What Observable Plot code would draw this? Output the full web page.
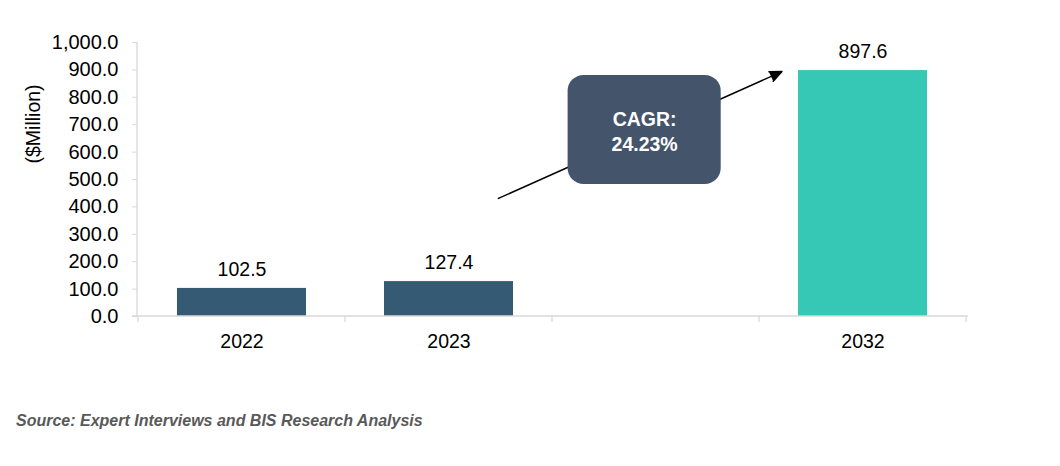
<!DOCTYPE html>
<html><head><meta charset="utf-8">
<script src="https://cdn.jsdelivr.net/npm/d3@7"></script>
<script src="https://cdn.jsdelivr.net/npm/@observablehq/plot@0.6"></script>
<style>
body{margin:0;background:#fff;font-family:"Liberation Sans",Arial,sans-serif;}
#caption{position:absolute;left:16px;top:412px;font:italic bold 16px "Liberation Sans",Arial,sans-serif;color:#595959;white-space:nowrap;}
</style></head><body>
<div id="chart"></div>
<div id="caption">Source: Expert Interviews and BIS Research Analysis</div>
<script>
// categories (the blank one is the gap between 2023 and 2032)
const categories = ["2022", "2023", " ", "2032"];
const barYears = ["2022", "2023", "2032"];
const barValues = [102.5, 127.4, 897.6];
const barColors = ["#345b73", "#345b73", "#36c7b5"];
const yTicks = [0, 100, 200, 300, 400, 500, 600, 700, 800, 900, 1000];
const yLabel = "($Million)";
// CAGR annotation
const cagrText = ["CAGR:\n24.23%"];
const cagrBox = [{x: " ", y1: 482, y2: 880}];
const cagrTextPos = [{x: " ", y: 680}];
const cagrArrow = [{x1: "2023", y1: 350.4, x2: "2032", y2: 1026}];

const bars = barYears.map((d, i) => ({year: d, value: barValues[i], color: barColors[i]}));

const axisLines = (index, scales, values, dims) => {
  const x = scales.x, y = scales.y;
  const bw = x.bandwidth ? x.bandwidth() : 0;
  const step = x.step ? x.step() : bw;
  const y0 = y(0);
  const g = d3.create("svg:g").attr("stroke", "#d9d9d9").attr("stroke-width", 1.3).attr("fill", "none");
  g.append("line").attr("x1", dims.marginLeft - 5).attr("x2", dims.width - dims.marginRight).attr("y1", y0).attr("y2", y0);
  g.append("line").attr("x1", dims.marginLeft).attr("x2", dims.marginLeft).attr("y1", dims.marginTop).attr("y2", y0);
  const bounds = categories.map(d => x(d) + bw / 2 - step / 2);
  bounds.push(x(categories[categories.length - 1]) + bw / 2 + step / 2);
  for (const b of bounds) g.append("line").attr("x1", b).attr("x2", b).attr("y1", y0).attr("y2", y0 + 6);
  return g.node();
};

const chart = Plot.plot({
  width: 1060,
  height: 390,
  marginTop: 42,
  marginBottom: 74,
  marginLeft: 137,
  marginRight: 92,
  style: {fontSize: "19.5px", fontFamily: "'Liberation Sans', Arial, sans-serif", color: "#000", background: "#fff"},
  x: {type: "band", domain: categories, paddingInner: 0.375, paddingOuter: 0.1875},
  y: {domain: [0, 1000]},
  marks: [
    Plot.barY(bars, {x: "year", y: "value", fill: "color"}),
    axisLines,
    Plot.axisY({ticks: yTicks, tickFormat: d3.format(",.1f"), tickSize: 5, tickPadding: 14, stroke: "#d9d9d9", fill: "#000", fontSize: 20, label: null}),
    Plot.axisX({tickSize: 0, tickPadding: 18, fill: "#000", label: null}),
    Plot.text(bars, {x: "year", y: "value", text: d => d3.format(".1f")(d.value), dy: -19, fill: "#000"}),
    Plot.text([yLabel], {frameAnchor: "left", text: d => d, rotate: -90, dx: -104, dy: -16, fill: "#000"}),
    Plot.arrow(cagrArrow, {x1: "x1", y1: "y1", x2: "x2", y2: "y2", insetStart: 54.1, insetEnd: 88.8, stroke: "#000", fill: "#000", strokeWidth: 1.5, headLength: 13, headAngle: 48}),
    Plot.barY(cagrBox, {x: "x", y1: "y1", y2: "y2", fill: "#44546a", rx: 16, insetLeft: -23.4, insetRight: -0.7}),
    Plot.text(cagrTextPos, {x: "x", y: "y", text: () => cagrText[0], dx: -11.4, fill: "#fff", fontWeight: "bold", lineHeight: 1.3})
  ]
});
document.getElementById("chart").appendChild(chart);
</script>
</body></html>
